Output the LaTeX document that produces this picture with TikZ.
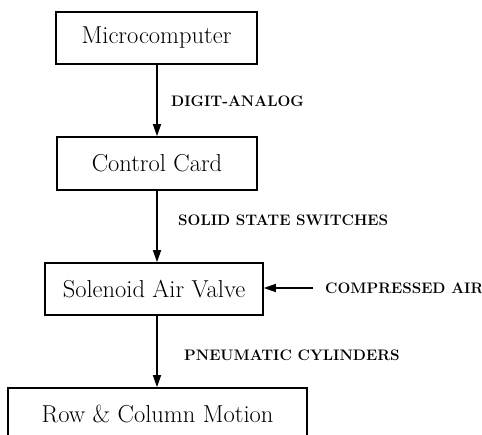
\documentclass[tikz,border=0pt]{standalone}
\usetikzlibrary{arrows.meta}
\begin{document}
\begin{tikzpicture}[x=1pt,y=-1pt,
  block/.style={draw, line width=1.6pt, inner sep=0pt, align=center,
    font=\fontsize{24.5}{28}\selectfont},
  tag/.style={inner sep=0pt, anchor=west, font=\fontsize{15.2}{18}\selectfont\bfseries},
  flow/.style={line width=1.4pt, -{Triangle[length=12pt,width=8pt]}}]
  \useasboundingbox (0,0) rectangle (482,435);
  \clip (0,0) rectangle (482,435);

  % processing chain
  \node[block, minimum width=201pt, minimum height=52pt] (micro) at (156.5,38) {Microcomputer};
  \node[block, minimum width=200pt, minimum height=53pt] (card) at (157,163.5) {Control Card};
  \node[block, minimum width=218pt, minimum height=52pt] (valve) at (154,289) {Solenoid Air Valve};
  \node[block, minimum width=299pt, minimum height=52pt] (motion) at (157.5,414) {Row \& Column Motion};

  % connectors between stages
  \draw[flow] (micro.south -| 157,0) -- (card.north -| 157,0);
  \draw[flow] (card.south -| 157,0) -- (valve.north -| 157,0);
  \draw[flow] (valve.south -| 157,0) -- (motion.north -| 157,0);

  % air supply
  \coordinate (air) at (313,288);
  \draw[flow] (air) -- (valve.east |- air);

  % labels
  \node[tag] (l1) at (171,101) {DIGIT-ANALOG};
  \node[tag] (l2) at (178,220) {SOLID STATE SWITCHES};
  \node[tag] (l3) at (325,288) {COMPRESSED AIR};
  \node[tag] (l4) at (184,355) {PNEUMATIC CYLINDERS};
\end{tikzpicture}
\end{document}
